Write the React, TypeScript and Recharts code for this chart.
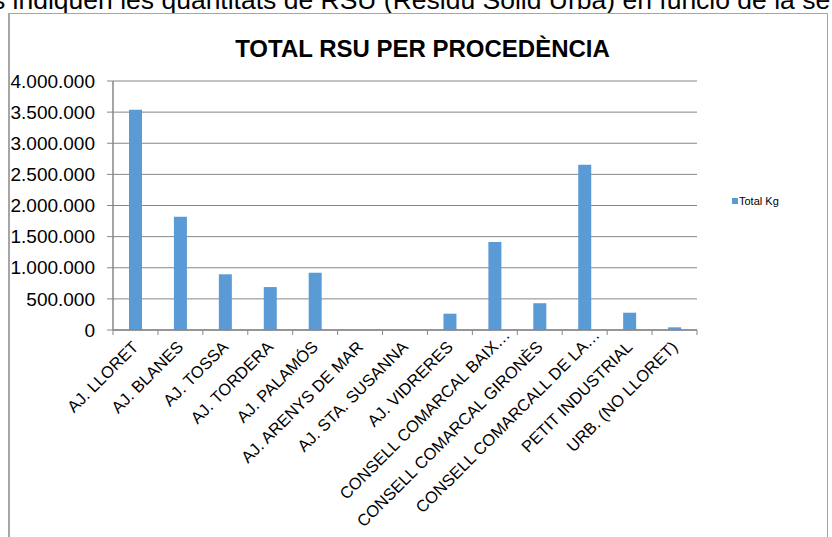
import React from 'react';
import { BarChart, Bar, XAxis, YAxis, CartesianGrid, Legend } from 'recharts';

const categories = [
  'AJ. LLORET',
  'AJ. BLANES',
  'AJ. TOSSA',
  'AJ. TORDERA',
  'AJ. PALAMÓS',
  'AJ. ARENYS DE MAR',
  'AJ. STA. SUSANNA',
  'AJ. VIDRERES',
  'CONSELL COMARCAL BAIX…',
  'CONSELL COMARCAL GIRONÈS',
  'CONSELL COMARCALL DE LA…',
  'PETIT INDUSTRIAL',
  'URB. (NO LLORET)',
];

const totalKg = [3540000, 1820000, 895000, 690000, 920000, 0, 0, 262000, 1415000, 430000, 2655000, 278000, 43000];

const yTicks = [0, 500000, 1000000, 1500000, 2000000, 2500000, 3000000, 3500000, 4000000];

const seriesName = 'Total Kg';
const chartTitle = 'TOTAL RSU PER PROCEDÈNCIA';
const headerText = 's indiquen les quantitats de RSU (Residu Sòlid Urbà) en funció de la se';

const data = categories.map((c, i) => ({ name: c, total: totalKg[i] }));

const W = 832;
const H = 537;
const M = { top: 81, right: 135, bottom: 57, left: 0 };
const Y_AXIS_W = 113;
const band = (W - M.right - M.left - Y_AXIS_W) / categories.length;
const GREY = '#878787';
const FONT = '"Liberation Sans", Arial, sans-serif';

const fmt = (v: number) => String(v).replace(/\B(?=(\d{3})+(?!\d))/g, '.');

function XTick(props: any) {
  const { x, y, payload, index } = props;
  const label = String(payload.value);
  const shift = label.endsWith('…') ? 12 : 0;
  const tx = x + 4 + shift;
  const ty = y + 18 - shift;
  return (
    <g>
      <line x1={x - band / 2} x2={x - band / 2} y1={y} y2={y + 5} stroke={GREY} />
      {index === categories.length - 1 && (
        <line x1={x + band / 2} x2={x + band / 2} y1={y} y2={y + 5} stroke={GREY} />
      )}
      <text
        x={tx}
        y={ty}
        textAnchor="end"
        transform={`rotate(-45 ${tx} ${ty})`}
        fontSize={16.5}
        fontFamily={FONT}
        fill="#000"
      >
        {label}
      </text>
    </g>
  );
}

function LegendContent() {
  return (
    <div style={{ display: 'flex', alignItems: 'center', fontFamily: FONT, fontSize: 11, color: '#000', whiteSpace: 'nowrap' }}>
      <span style={{ display: 'inline-block', width: 6, height: 6, background: '#5b9bd5', marginRight: 1 }} />
      <span>{seriesName}</span>
    </div>
  );
}

export default function App() {
  return (
    <div style={{ position: 'fixed', left: 0, top: 0, width: W, height: H, overflow: 'hidden', background: '#fff' }}>
      <div
        style={{
          position: 'absolute',
          left: -8,
          top: -15,
          fontFamily: FONT,
          fontSize: 26.5,
          lineHeight: '30px',
          whiteSpace: 'nowrap',
          color: '#000',
        }}
      >
        {headerText}
      </div>
      <div
        style={{
          position: 'absolute',
          left: 8,
          top: 13,
          width: 820,
          height: 600,
          border: '1px solid #a6a6a6',
          borderLeftWidth: 2,
          boxSizing: 'border-box',
        }}
      />
      <div
        style={{
          position: 'absolute',
          left: 0,
          width: 845,
          top: 35,
          textAlign: 'center',
          fontFamily: FONT,
          fontWeight: 'bold',
          fontSize: 24,
          lineHeight: '28px',
          color: '#000',
        }}
      >
        {chartTitle}
      </div>
      <div style={{ position: 'absolute', left: 0, top: 0 }}>
        <BarChart width={W} height={H} data={data} margin={M} barSize={13}>
          <CartesianGrid vertical={false} stroke={GREY} strokeWidth={1} />
          <XAxis
            dataKey="name"
            interval={0}
            tickSize={0}
            tickMargin={0}
            tickLine={false}
            axisLine={{ stroke: GREY, strokeWidth: 1.5 }}
            height={150}
            tick={<XTick />}
          />
          <YAxis
            width={Y_AXIS_W}
            domain={[0, 4000000]}
            ticks={yTicks}
            tickFormatter={fmt}
            tickSize={6}
            tickMargin={12}
            axisLine={{ stroke: GREY, strokeWidth: 1.5 }}
            tickLine={{ stroke: GREY }}
            tick={{ fontSize: 19, fontFamily: FONT, fill: '#000' }}
            interval={0}
          />
          <Legend
            layout="horizontal"
            verticalAlign="middle"
            align="center"
            content={<LegendContent />}
            wrapperStyle={{ left: 732, top: 195, width: 'auto', height: 'auto' }}
          />
          <Bar dataKey="total" name={seriesName} fill="#5b9bd5" isAnimationActive={false} />
        </BarChart>
      </div>
    </div>
  );
}
